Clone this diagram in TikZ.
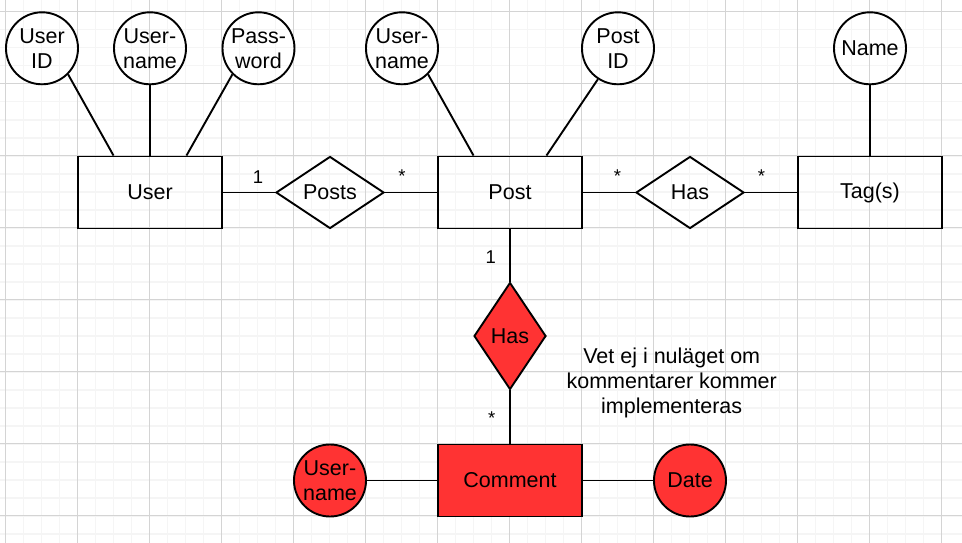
\documentclass[tikz,border=0pt]{standalone}
\usepackage{fontspec}
\setmainfont{Liberation Sans}
\usetikzlibrary{shapes.geometric,calc}
\definecolor{gmaj}{HTML}{D4D4D4}
\definecolor{gmin}{HTML}{F5F5F5}
\definecolor{redfill}{HTML}{FF3333}
\begin{document}
\begin{tikzpicture}[x=1pt,y=-1pt,
  every node/.style={font=\fontsize{21.5}{25}\selectfont},
  ent/.style={draw, rectangle, minimum width=144pt, minimum height=72pt, inner sep=0pt, line width=1.9pt},
  attr/.style={draw, circle, minimum size=72pt, inner sep=0pt, align=center, line width=1.9pt},
  rel/.style={draw, diamond, minimum width=108pt, minimum height=72pt, inner sep=0pt, line width=1.9pt},
  vrel/.style={draw, diamond, minimum width=72pt, minimum height=107pt, inner sep=0pt, line width=1.9pt},
  red/.style={fill=redfill},
  conn/.style={line width=1.9pt},
  card/.style={font=\fontsize{18.5}{20}\selectfont, anchor=base, inner sep=0pt}]
\useasboundingbox (0,0) rectangle (962,543);
\fill[white] (0,0) rectangle (962,543);
% minor grid
\foreach \i in {0,...,53} {
  \draw[gmin, line width=1.6pt] ({5.5+18*\i-18},0) -- ({5.5+18*\i-18},543);
}
\foreach \j in {0,...,31} {
  \draw[gmin, line width=1.6pt] (0,{11.7+18*\j-18}) -- (962,{11.7+18*\j-18});
}
% major grid
\foreach \i in {0,...,13} {
  \draw[gmaj, line width=1pt] ({5.5+72*\i},0) -- ({5.5+72*\i},543);
}
\foreach \j in {0,...,7} {
  \draw[gmaj, line width=1pt] (0,{11.7+72*\j}) -- (962,{11.7+72*\j});
}

% entities
\node[ent] (user) at (150,192.5) {User};
\node[ent] (post) at (510,192.5) {Post};
\node[ent] (tag) at (870,192.5) {Tag(s)};
\node[ent, red] (comment) at (510,480.5) {Comment};

% relations
\node[rel] (posts) at (330,192.5) {Posts};
\node[rel] (has) at (690,192.5) {Has};
\node[vrel, red] (hasc) at (510,336) {Has};

% attributes
\node[attr] (uid) at (42,48.3) {User\\ID};
\node[attr] (uname) at (150,48.3) {User-\\name};
\node[attr] (pw) at (258.5,48.3) {Pass-\\word};
\node[attr] (puname) at (402,48.3) {User-\\name};
\node[attr] (pid) at (618,48.3) {Post\\ID};
\node[attr] (tname) at (870,48.3) {Name};
\node[attr, red] (cuname) at (330,480.5) {User-\\name};
\node[attr, red] (cdate) at (690,480.5) {Date};

% attribute connectors
\draw[conn] (uid.-45) -- ($(user.north west)!0.25!(user.north east)$);
\draw[conn] (uname) -- (user);
\draw[conn] (pw.-135) -- ($(user.north west)!0.75!(user.north east)$);
\draw[conn] (puname.-45) -- ($(post.north west)!0.25!(post.north east)$);
\draw[conn] (pid.-123) -- ($(post.north west)!0.75!(post.north east)$);
\draw[conn] (tname) -- (tag);
\draw[conn] (cuname) -- (comment);
\draw[conn] (comment) -- (cdate);

% relation connectors
\draw[conn] (user) -- (posts);
\draw[conn] (posts) -- (post);
\draw[conn] (post) -- (has);
\draw[conn] (has) -- (tag);
\draw[conn] (post) -- (hasc);
\draw[conn] (hasc) -- (comment);

% cardinalities
\node[card] (c1) at (258,183) {1};
\node[card] (c2) at (402,182.5) {*};
\node[card] (c3) at (617.5,182.5) {*};
\node[card] (c4) at (761.5,182.5) {*};
\node[card] (c5) at (490.7,263.5) {1};
\node[card] (c6) at (491.7,424) {*};

% note
\node[align=center, inner sep=0pt] (note) at (671.7,383) {Vet ej i nuläget om\\kommentarer kommer\\implementeras};
\end{tikzpicture}
\end{document}
